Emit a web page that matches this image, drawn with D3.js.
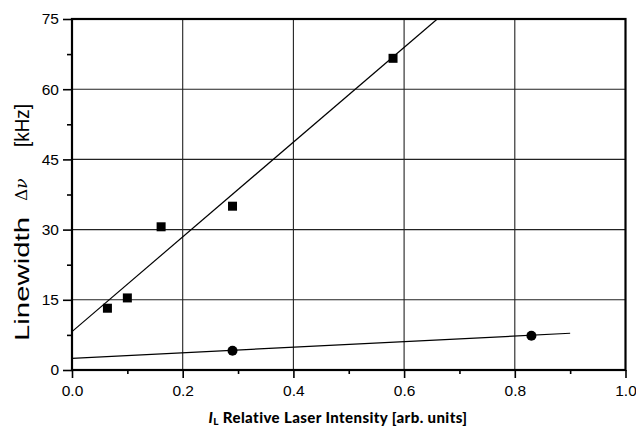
<!DOCTYPE html>
<html>
<head>
<meta charset="utf-8">
<script src="https://cdn.jsdelivr.net/npm/d3@7"></script>
<style>
  html, body { margin: 0; padding: 0; background: #fff; }
  svg { display: block; }
</style>
</head>
<body>
<svg id="chart" width="636" height="438"></svg>
<script>
// ---- data ----
const squareX = [0.064, 0.100, 0.161, 0.290, 0.580];
const squareY = [13.2, 15.4, 30.6, 35.0, 66.6];
const circleX = [0.290, 0.830];
const circleY = [4.1, 7.3];
const fitUpperX = [0.0, 0.66];
const fitUpperY = [8.2, 75.0];
const fitLowerX = [0.0, 0.90];
const fitLowerY = [2.5, 7.85];
const xTicks = [0.0, 0.2, 0.4, 0.6, 0.8, 1.0];
const xMinor = [0.1, 0.3, 0.5, 0.7, 0.9];
const yTicks = [0, 15, 30, 45, 60, 75];
const yMinor = [7.5, 22.5, 37.5, 52.5, 67.5];

// ---- layout ----
const svg = d3.select("#chart");
const L = 72, R = 625.5, T = 19, B = 370;
const x = d3.scaleLinear().domain([0, 1]).range([L, R]);
const y = d3.scaleLinear().domain([0, 75]).range([B, T]);

// gridlines
const grid = svg.append("g");
grid.selectAll("line.v").data(xTicks.slice(1, -1)).join("line")
  .attr("x1", d => x(d)).attr("x2", d => x(d)).attr("y1", T).attr("y2", B)
  .attr("stroke", "#222").attr("stroke-width", 1.1);
grid.selectAll("line.h").data(yTicks.slice(1, -1)).join("line")
  .attr("class", "h")
  .attr("x1", L).attr("x2", R).attr("y1", d => y(d)).attr("y2", d => y(d))
  .attr("stroke", "#222").attr("stroke-width", 1.1);

// axes
const fontAx = "Liberation Sans, Arial, sans-serif";
const xAxis = svg.append("g").attr("transform", `translate(0,${B})`)
  .call(d3.axisBottom(x).tickValues(xTicks).tickFormat(d3.format(".1f")).tickSize(8).tickPadding(7));
const xAxisMinor = svg.append("g").attr("transform", `translate(0,${B})`)
  .call(d3.axisBottom(x).tickValues(xMinor).tickFormat("").tickSize(4));
const yAxis = svg.append("g").attr("transform", `translate(${L},0)`)
  .call(d3.axisLeft(y).tickValues(yTicks).tickFormat(d3.format("d")).tickSize(9).tickPadding(4));
const yAxisMinor = svg.append("g").attr("transform", `translate(${L},0)`)
  .call(d3.axisLeft(y).tickValues(yMinor).tickFormat("").tickSize(5));
[xAxis, xAxisMinor, yAxis, yAxisMinor].forEach(g => {
  g.select(".domain").remove();
  g.selectAll(".tick line").attr("stroke", "#000").attr("stroke-width", 1.6);
  g.selectAll(".tick text").attr("font-family", fontAx).attr("font-size", 15.5).attr("fill", "#000");
});

// frame
svg.append("rect").attr("x", L).attr("y", T).attr("width", R - L).attr("height", B - T)
  .attr("fill", "none").attr("stroke", "#000").attr("stroke-width", 2.2);

// fit lines
const line = d3.line().x(d => x(d[0])).y(d => y(d[1]));
svg.append("path").datum(d3.zip(fitUpperX, fitUpperY)).attr("d", line)
  .attr("fill", "none").attr("stroke", "#000").attr("stroke-width", 1.2);
svg.append("path").datum(d3.zip(fitLowerX, fitLowerY)).attr("d", line)
  .attr("fill", "none").attr("stroke", "#000").attr("stroke-width", 1.2);

// markers
const s = 9;
svg.append("g").selectAll("rect").data(d3.zip(squareX, squareY)).join("rect")
  .attr("x", d => x(d[0]) - s / 2).attr("y", d => y(d[1]) - s / 2)
  .attr("width", s).attr("height", s).attr("fill", "#000");
svg.append("g").selectAll("circle").data(d3.zip(circleX, circleY)).join("circle")
  .attr("cx", d => x(d[0])).attr("cy", d => y(d[1])).attr("r", 5).attr("fill", "#000");

// y-axis title (rotated)
const yt = svg.append("g").attr("transform", "translate(29,0) rotate(-90)");
yt.append("text").attr("x", -341).attr("y", 0).attr("font-family", fontAx).attr("font-size", 21)
  .attr("textLength", 124).attr("lengthAdjust", "spacingAndGlyphs").text("Linewidth");
const dn = yt.append("text").attr("x", -201).attr("y", -2).attr("font-family", "DejaVu Serif, serif").attr("font-size", 17);
dn.append("tspan").text("Δ");
dn.append("tspan").attr("font-style", "italic").text("ν");
yt.append("text").attr("x", -147).attr("y", 0).attr("font-family", fontAx).attr("font-size", 20)
  .attr("textLength", 43).attr("lengthAdjust", "spacingAndGlyphs").text("[kHz]");

// x-axis title
const xt = svg.append("text").attr("x", 338).attr("y", 423).attr("text-anchor", "middle")
  .attr("font-family", "Lato, sans-serif").attr("font-weight", "900").attr("font-size", 15)
  .attr("letter-spacing", 0.4);
xt.append("tspan").attr("font-style", "italic").text("I");
xt.append("tspan").attr("font-size", 10).attr("dy", 2).text("L");
xt.append("tspan").attr("dy", -2).text(" Relative Laser Intensity [arb. units]");
</script>
</body>
</html>
